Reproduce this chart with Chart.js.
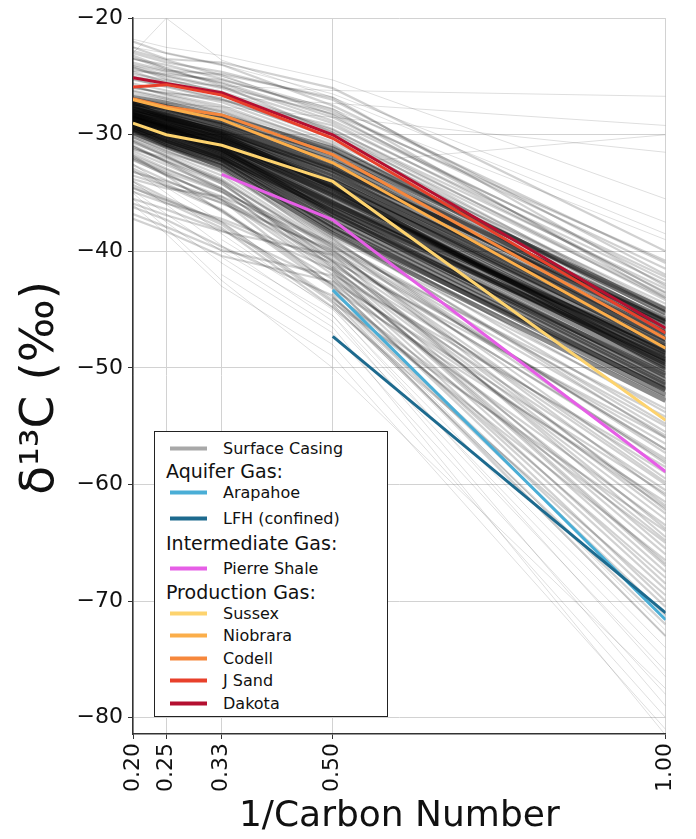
<!DOCTYPE html>
<html>
<head>
<meta charset="utf-8">
<script src="https://cdn.jsdelivr.net/npm/chart.js@4.4.1/dist/chart.umd.min.js"></script>
<style>
  html, body { margin: 0; padding: 0; background: #fff; }
  #wrap { position: relative; width: 696px; height: 839px; }
  #legend { position: absolute; left: 154px; top: 431px; width: 234px; height: 286px; box-sizing: border-box;
            border: 1.5px solid #222; background: #fff; font-family: 'DejaVu Sans', sans-serif; color: #111; }
  #legend .item { position: absolute; left: 15px; transform: translateY(-50%); display: flex; align-items: center;
                  font-size: 16px; white-space: nowrap; }
  #legend .sw { display: inline-block; width: 37px; height: 4px; margin-right: 16px; }
  #legend .head { position: absolute; left: 11px; transform: translateY(-50%); font-size: 19px; white-space: nowrap; }
</style>
</head>
<body>
<div id="wrap">
  <canvas id="chart" width="696" height="839"></canvas>
  <div id="legend">
    <div class="item" style="top:16px"><span class="sw" style="background:#a8a8a8"></span>Surface Casing</div>
    <div class="head" style="top:39px">Aquifer Gas:</div>
    <div class="item" style="top:60px"><span class="sw" style="background:#4aaed6"></span>Arapahoe</div>
    <div class="item" style="top:86px"><span class="sw" style="background:#1d6a8e"></span>LFH (confined)</div>
    <div class="head" style="top:111px">Intermediate Gas:</div>
    <div class="item" style="top:136px"><span class="sw" style="background:#e65ee6"></span>Pierre Shale</div>
    <div class="head" style="top:160px">Production Gas:</div>
    <div class="item" style="top:181px"><span class="sw" style="background:#fdd36e"></span>Sussex</div>
    <div class="item" style="top:203px"><span class="sw" style="background:#fbae4a"></span>Niobrara</div>
    <div class="item" style="top:226px"><span class="sw" style="background:#f6873c"></span>Codell</div>
    <div class="item" style="top:248px"><span class="sw" style="background:#e8402b"></span>J Sand</div>
    <div class="item" style="top:271px"><span class="sw" style="background:#b40f30"></span>Dakota</div>
  </div>
</div>
<script>
// x positions: 1/carbon number for C5, C4, C3, C2, C1
const invCarbon = [0.2, 0.25, 0.3333, 0.5, 1.0];
const xTicks = [0.2, 0.25, 0.3333, 0.5, 1.0];
const yTicks = [-80, -70, -60, -50, -40, -30, -20];

// named gas samples, d13C (permil) at C5..C1
const dakota      = [-25.1, -25.6, -26.4, -30.0, -46.6];
const jSand       = [-25.9, -25.7, -26.6, -30.3, -47.0];
const codell      = [-26.9, -27.6, -28.3, -31.7, -47.5];
const niobrara    = [-27.0, -27.7, -28.7, -32.4, -48.3];
const sussex      = [-29.0, -30.0, -30.9, -34.0, -54.5];
const pierreShale = [null, null, -33.4, -37.3, -58.9];
const arapahoe    = [null, null, null, -43.3, -71.6];
const lfh         = [null, null, null, -47.3, -71.0];

// surface casing samples, d13C at C5..C1 (dense middle band)
const surfaceCore = [
  [-26.8, -27.3, -28.4, -31.2, -45.3], [-27.0, -27.6, -28.6, -31.6, -45.0],
  [-27.1, -27.8, -28.9, -31.9, -46.1], [-27.3, -27.7, -29.0, -32.3, -45.8],
  [-27.2, -28.0, -29.2, -32.6, -46.7], [-27.5, -28.2, -29.4, -32.8, -46.4],
  [-27.6, -28.3, -29.6, -33.1, -47.2], [-27.4, -28.5, -29.8, -33.4, -47.6],
  [-27.8, -28.4, -29.9, -33.6, -47.0], [-27.9, -28.7, -30.1, -33.9, -48.1],
  [-28.0, -28.9, -30.2, -34.2, -48.5], [-28.1, -28.8, -30.4, -34.4, -47.9],
  [-28.3, -29.0, -30.5, -34.7, -48.8], [-28.2, -29.2, -30.7, -35.0, -49.3],
  [-28.5, -29.3, -30.8, -35.2, -49.0], [-28.6, -29.5, -31.0, -35.5, -49.8],
  [-28.4, -29.4, -31.1, -35.8, -50.2], [-28.8, -29.7, -31.3, -36.0, -49.6],
  [-28.9, -29.8, -31.4, -36.3, -50.7], [-29.0, -30.0, -31.6, -36.6, -51.0],
  [-29.1, -30.1, -31.8, -36.9, -50.5], [-29.3, -30.3, -31.9, -37.2, -51.5],
  [-29.2, -30.4, -32.1, -37.5, -51.9], [-29.5, -30.6, -32.2, -37.8, -52.3],
  [-29.6, -30.8, -32.4, -38.1, -51.8], [-29.8, -31.0, -32.7, -38.5, -52.8],
  [-28.0, -28.6, -29.7, -33.0, -46.0], [-28.4, -29.1, -30.3, -34.0, -47.5],
  [-28.7, -29.4, -30.9, -35.1, -48.7], [-28.3, -29.3, -30.6, -34.6, -49.5],
  [-27.7, -28.6, -30.0, -34.5, -50.0], [-28.9, -29.9, -31.5, -35.9, -48.3],
  [-29.4, -30.5, -32.0, -36.4, -49.2], [-28.6, -29.6, -31.2, -36.8, -51.3]
];

// surface casing samples spread around the band
const surfaceSpread = [
  [-22.0, -23.0, -24.0, -27.5, -41.0], [-22.5, -23.5, -23.8, -26.0, -40.0],
  [-23.0, -23.8, -24.6, -27.0, -42.0], [-23.5, -24.0, -25.2, -28.0, -41.5],
  [-23.8, -24.5, -24.8, -26.8, -43.0], [-24.0, -24.6, -25.5, -28.5, -42.5],
  [-24.3, -25.0, -26.0, -29.0, -43.5], [-24.5, -24.8, -25.3, -27.8, -44.0],
  [-24.8, -25.3, -26.3, -29.5, -44.2], [-25.0, -25.6, -26.6, -29.8, -43.8],
  [-25.3, -25.8, -26.9, -30.3, -44.8], [-25.6, -26.2, -27.2, -30.6, -45.0],
  [-25.9, -26.5, -27.5, -30.9, -45.5], [-26.2, -26.8, -27.9, -31.0, -44.5],
  [-26.5, -27.0, -28.0, -31.4, -46.2], [-26.0, -26.4, -27.0, -29.2, -42.8],
  [-24.2, -25.2, -26.4, -30.0, -46.0], [-23.2, -24.3, -25.8, -29.8, -45.2],
  [-23.4, -24.4, -25.6, -28.8, -42.2], [-24.6, -25.5, -26.5, -29.6, -43.2],
  [-25.2, -25.9, -27.0, -30.1, -44.0], [-25.8, -26.6, -27.7, -30.8, -46.8],
  [-26.3, -26.9, -28.1, -31.3, -45.8], [-24.1, -24.9, -25.9, -28.2, -40.8],
  [-22.8, -23.6, -24.9, -28.3, -43.6],
  [-30.0, -31.0, -32.8, -38.8, -53.5], [-30.2, -31.4, -33.2, -39.2, -55.0],
  [-30.5, -31.6, -33.5, -39.6, -54.2], [-31.2, -32.0, -33.9, -40.0, -56.5],
  [-31.0, -32.3, -34.2, -40.4, -57.8], [-33.5, -34.4, -35.8, -40.8, -56.0],
  [-31.6, -32.9, -34.9, -41.2, -59.0], [-34.6, -35.6, -37.4, -41.6, -60.5],
  [-32.2, -33.4, -35.5, -42.0, -58.5], [-31.8, -33.5, -36.6, -42.4, -62.0],
  [-35.5, -36.4, -38.2, -42.8, -63.5], [-33.1, -34.4, -36.5, -43.2, -61.5],
  [null, null, null, -43.6, -65.0], [null, null, null, -44.0, -66.5],
  [-34.3, -35.6, -37.7, -44.4, -64.0], [-29.5, -30.9, -32.9, -39.5, -57.0],
  [-30.9, -32.3, -34.6, -40.6, -60.0], [-30.6, -31.9, -34.0, -41.4, -63.0],
  [null, null, null, -42.2, -67.5], [-32.0, -33.3, -35.6, -43.0, -69.0],
  [-36.2, -37.3, -39.6, -43.8, -70.5], [null, null, null, -44.6, -72.0],
  [-30.3, -31.5, -33.0, -38.5, -52.5], [-29.7, -30.7, -32.5, -38.0, -54.8],
  [-32.6, -33.9, -35.9, -39.9, -61.0], [-31.8, -33.0, -34.7, -40.2, -58.0],
  [-34.9, -35.9, -37.2, -41.0, -62.5], [null, null, null, -41.8, -66.0],
  [-29.8, -30.9, -32.6, -38.2, -56.0], [-30.1, -31.1, -33.0, -38.9, -58.2],
  [-33.8, -34.6, -35.3, -39.4, -59.5], [-30.7, -31.8, -33.8, -39.8, -62.2],
  [-35.9, -36.9, -38.3, -40.3, -64.5], [-31.4, -32.6, -34.6, -40.9, -61.8],
  [null, null, null, -41.3, -65.5], [-32.1, -33.5, -35.3, -41.7, -67.0],
  [-36.8, -37.9, -39.9, -42.1, -64.8], [null, null, null, -42.5, -68.5],
  [-32.9, -34.2, -36.4, -42.9, -70.0], [null, null, null, -43.4, -68.0],
  [null, null, null, -43.9, -71.2], [-34.0, -35.4, -37.5, -44.2, -73.0],
  [-29.6, -30.6, -32.3, -37.9, -53.8], [-29.9, -31.0, -32.7, -38.4, -55.5],
  [-30.2, -31.3, -33.1, -39.0, -57.3], [-32.0, -33.2, -34.9, -39.3, -55.8],
  [-31.2, -32.2, -34.0, -39.7, -57.0], [-33.2, -34.0, -35.6, -40.1, -59.8],
  [-30.5, -31.8, -34.2, -40.8, -63.8], [-31.0, -32.4, -34.8, -41.5, -66.8],
  [-37.2, -38.3, -40.4, -42.6, -60.8], [-34.5, -35.8, -38.0, -44.8, -69.5]
];

// sparse outliers
const surfaceSparse = [
  [-25.0, -25.4, -25.8, -26.2, -26.7], [-26.0, -26.4, -26.8, -27.3, -29.2],
  [-26.8, -27.3, -27.6, -28.5, -31.5], [null, null, -30.5, -32.5, -30.0],
  [-22.5, -23.0, -24.0, -26.5, -37.5], [-23.5, -24.2, -25.0, -27.8, -39.0],
  [-21.8, -22.5, -23.2, -25.3, -35.5], [-23.0, -20.0, -23.6, -26.8, -38.5],
  [-33.0, -35.0, -38.5, -45.0, -74.0], [-34.0, -36.0, -39.5, -46.0, -76.0],
  [-35.0, -37.5, -41.0, -47.0, -78.0], [null, null, -42.0, -48.0, -80.0],
  [null, null, -40.5, -46.5, -81.5], [-36.0, -38.5, -43.0, -49.0, -81.0],
  [null, null, null, -44.5, -73.0], [null, null, null, -45.5, -75.0],
  [-35.5, -38.0, -42.5, -50.0, -77.5], [-32.5, -34.5, -37.5, -44.0, -72.5],
  [-34.8, -36.8, -40.0, -45.5, -79.0], [null, null, -39.0, -44.8, -76.5]
];

function toPoints(row) {
  return row.map((v, i) => ({ x: invCarbon[i], y: v }));
}

const datasets = [];
function addSample(row, color, width, order) {
  datasets.push({ data: toPoints(row), borderColor: color, borderWidth: width,
                  pointRadius: 0, fill: false, tension: 0, order: order });
}

surfaceSparse.forEach(r => addSample(r, 'rgba(0,0,0,0.13)', 1, 3));
surfaceSpread.forEach(r => addSample(r, 'rgba(0,0,0,0.18)', 2.2, 2));
surfaceCore.forEach(r => addSample(r, 'rgba(0,0,0,0.45)', 5, 1));

addSample(lfh, '#1d6a8e', 3, 0);
addSample(arapahoe, '#4aaed6', 3, 0);
addSample(pierreShale, '#e65ee6', 3, 0);
addSample(sussex, '#fdd36e', 3, 0);
addSample(niobrara, '#fbae4a', 3, 0);
addSample(codell, '#f6873c', 3, 0);
addSample(jSand, '#e8402b', 3, 0);
addSample(dakota, '#b40f30', 3, 0);

const font = 'DejaVu Sans';

new Chart(document.getElementById('chart').getContext('2d'), {
  type: 'line',
  data: { datasets: datasets },
  options: {
    responsive: false,
    animation: false,
    layout: { padding: { top: 18, right: 28, left: 0, bottom: 0 } },
    plugins: { legend: { display: false }, tooltip: { enabled: false } },
    scales: {
      x: {
        type: 'linear', min: 0.2, max: 1.0,
        afterBuildTicks: s => { s.ticks = xTicks.map(v => ({ value: v })); },
        afterFit: s => { s.height = 105; },
        ticks: { autoSkip: false, minRotation: 90, maxRotation: 90, padding: 4, color: '#111',
                 font: { family: font, size: 22 }, callback: v => v.toFixed(2) },
        grid: { color: '#d2d2d2', lineWidth: 1, tickLength: 5, tickColor: '#333' },
        border: { color: '#333', width: 1.5 },
        title: { display: true, text: '1/Carbon Number', color: '#111',
                 font: { family: font, size: 36 }, padding: { top: 0, bottom: 1 } }
      },
      y: {
        type: 'linear', min: -81.4, max: -20,
        afterBuildTicks: s => { s.ticks = yTicks.map(v => ({ value: v })); },
        afterFit: s => { s.width = 133; },
        ticks: { padding: 5, color: '#111', font: { family: font, size: 22 },
                 callback: v => (v < 0 ? '\u2212' + Math.abs(v) : String(v)) },
        grid: { color: '#d2d2d2', lineWidth: 1, tickLength: 5, tickColor: '#333' },
        border: { color: '#333', width: 1.5 },
        title: { display: true, text: 'δ¹³C (‰)\u2002', color: '#111',
                 font: { family: font, size: 47 }, padding: { top: 13, bottom: 0 } }
      }
    }
  }
});
</script>
</body>
</html>
